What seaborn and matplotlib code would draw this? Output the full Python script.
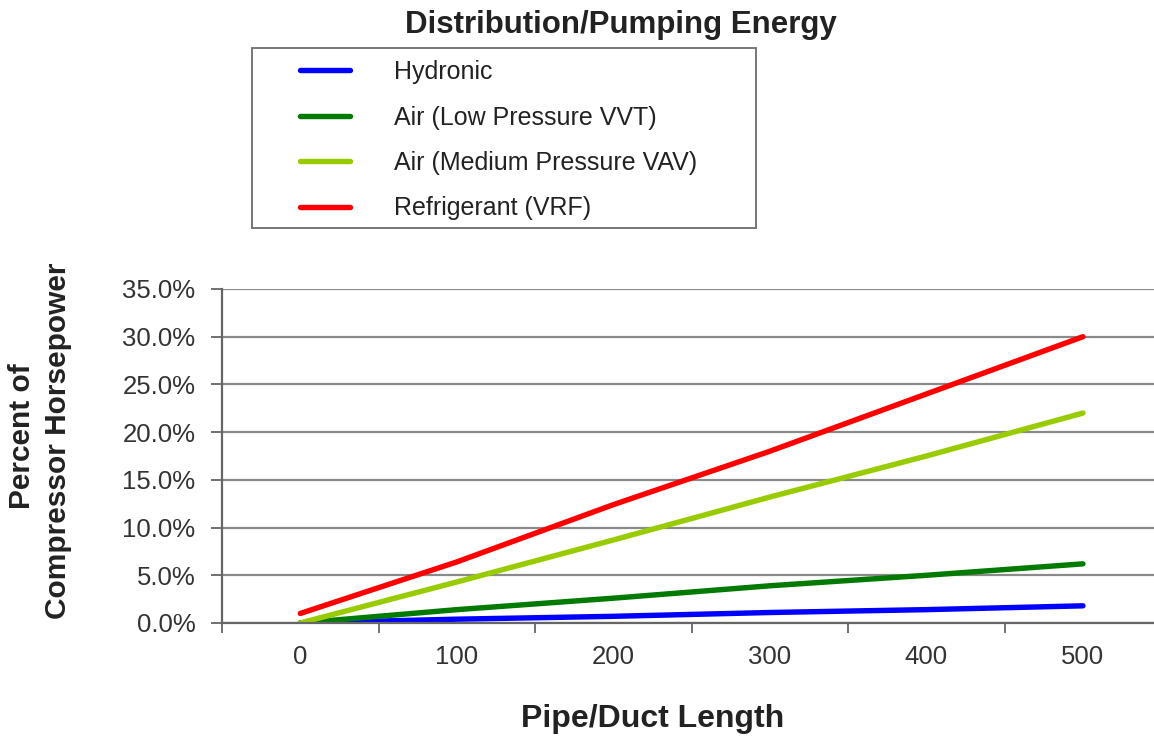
import matplotlib
matplotlib.use("Agg")
import matplotlib.pyplot as plt
from matplotlib.patches import Rectangle
from matplotlib.ticker import FixedLocator, PercentFormatter
import seaborn as sns
import pandas as pd

# ---- data ----
lengths = [0, 100, 200, 300, 400, 500]
hydronic = [0.0, 0.4, 0.7, 1.1, 1.4, 1.8]
air_low_vvt = [0.0, 1.4, 2.6, 3.9, 5.0, 6.2]
air_medium_vav = [0.0, 4.3, 8.7, 13.2, 17.5, 22.0]
refrigerant_vrf = [1.0, 6.4, 12.4, 18.0, 24.0, 30.0]
series_names = ["Hydronic", "Air (Low Pressure VVT)",
                "Air (Medium Pressure VAV)", "Refrigerant (VRF)"]
series_colors = ["#0000FF", "#007A00", "#99CC00", "#FF0000"]
y_ticks = [0, 5, 10, 15, 20, 25, 30, 35]

rows = []
for name, vals in zip(series_names,
                      [hydronic, air_low_vvt, air_medium_vav, refrigerant_vrf]):
    for x, v in zip(lengths, vals):
        rows.append({"Length": x, "Percent": v, "Series": name})
df = pd.DataFrame(rows)

sns.set_theme(style="white")
plt.rcParams["font.family"] = ["Liberation Sans", "DejaVu Sans"]

W, H = 1154, 736
TXT = "#222222"
fig = plt.figure(figsize=(W / 100, H / 100), dpi=100)
ax = fig.add_axes([222 / W, 1 - 623 / H, (W - 222) / W, (623 - 289) / H])

sns.lineplot(data=df, x="Length", y="Percent", hue="Series",
             hue_order=series_names, palette=series_colors,
             linewidth=3.9, ax=ax, legend=True, solid_capstyle="round")

ax.set_xlim(-50, 545.4)
ax.set_ylim(0, 35)
ax.set_yticks(y_ticks)
ax.yaxis.set_major_formatter(PercentFormatter(decimals=1))
ax.yaxis.grid(True, color="#8a8a8a", linewidth=1.6)
ax.set_axisbelow(True)
ax.set_xticks(lengths)
ax.xaxis.set_minor_locator(FixedLocator([-50, 50, 150, 250, 350, 450]))
ax.tick_params(axis="x", which="major", length=0, pad=16, labelsize=18.5,
               colors="#333333")
ax.tick_params(axis="x", which="minor", length=7, width=1.3, color="#666666",
               direction="out", bottom=True)
ax.tick_params(axis="y", length=8, width=1.3, color="#666666", direction="out",
               left=True, labelsize=18.5, labelcolor="#333333", pad=11)
for s in ["top", "right"]:
    ax.spines[s].set_visible(False)
for s in ["left", "bottom"]:
    ax.spines[s].set_color("#666666")
    ax.spines[s].set_linewidth(1.6)

ax.set_xlabel("")
ax.set_ylabel("")
fig.text(653 / W, 1 - 727 / H, "Pipe/Duct Length", ha="center", va="baseline",
         fontsize=23, fontweight="bold", color=TXT)
fig.text(22 / W, 1 - 436 / H, "Percent of", rotation=90, ha="center",
         va="center", fontsize=21.5, fontweight="bold", color=TXT)
fig.text(58 / W, 1 - 441 / H, "Compressor Horsepower", rotation=90,
         ha="center", va="center", fontsize=21.5, fontweight="bold",
         color=TXT)
fig.text(621 / W, 1 - 33 / H, "Distribution/Pumping Energy", ha="center",
         va="baseline", fontsize=22.5, fontweight="bold", color=TXT)

# legend
handles, labels = ax.get_legend_handles_labels()
ax.get_legend().remove()
leg = fig.legend(handles, labels, loc="upper left",
                 bbox_to_anchor=(300 / W, 1 - 60 / H), frameon=False,
                 fontsize=18, handlelength=2.0, handletextpad=1.75,
                 labelspacing=0.86, borderpad=0, borderaxespad=0)
for t in leg.get_texts():
    t.set_color(TXT)
for lh in leg.get_lines():
    lh.set_linewidth(3.9)
    lh.set_solid_capstyle("round")
fig.patches.append(Rectangle((252 / W, 1 - 228 / H), (756 - 252) / W,
                             (228 - 48) / H, transform=fig.transFigure,
                             fill=False, edgecolor="#777777", linewidth=1.4))

fig.savefig("out.png", dpi=100)
